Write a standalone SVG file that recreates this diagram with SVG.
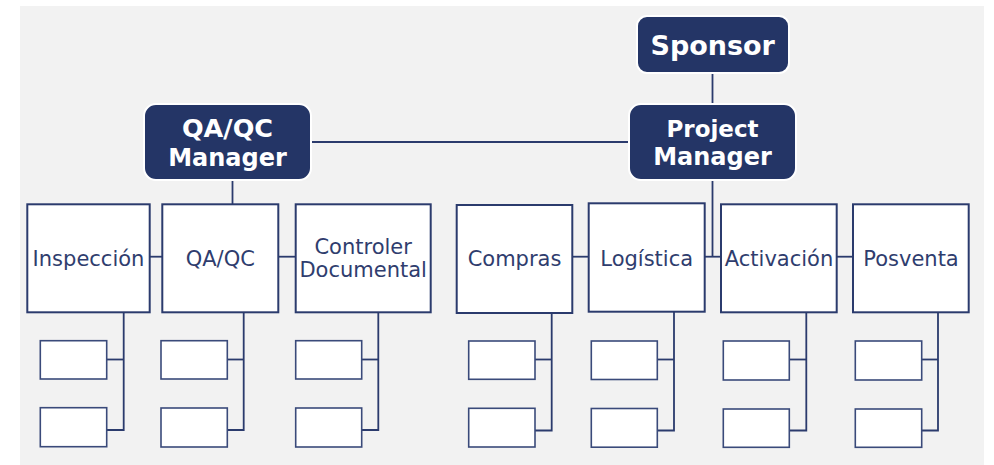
<svg xmlns="http://www.w3.org/2000/svg" width="994" height="465" viewBox="0 0 994 465">
<style>
.bg{fill:#f2f2f2}
.mgr{fill:#243566;stroke:#ffffff;stroke-width:2}
.mt{font-family:"DejaVu Sans",sans-serif;font-weight:bold;fill:#ffffff;text-anchor:middle}
.box{fill:#ffffff;stroke:#2b3b6d;stroke-width:2}
.sub{fill:#ffffff;stroke:#3a4a7a;stroke-width:1.6}
.bt{font-family:"DejaVu Sans",sans-serif;font-size:21px;fill:#2f3d6e;text-anchor:middle}
.ln{fill:none;stroke:#2b3b6d;stroke-width:1.8}
</style>
<rect class="bg" x="20" y="6" width="964" height="459"/>
<g id="connectors">
<line class="ln" x1="311" y1="142" x2="629" y2="142"/>
<line class="ln" x1="712.5" y1="73" x2="712.5" y2="104"/>
<polyline class="ln" points="712.5,180 712.5,256.7"/>
<line class="ln" x1="705" y1="256.7" x2="721" y2="256.7"/>
<line class="ln" x1="232.5" y1="180" x2="232.5" y2="204"/>
<line class="ln" x1="150" y1="256.7" x2="162" y2="256.7"/>
<line class="ln" x1="278" y1="256.7" x2="296" y2="256.7"/>
<line class="ln" x1="572" y1="256.7" x2="589" y2="256.7"/>
<line class="ln" x1="837" y1="256.7" x2="853" y2="256.7"/>
<polyline class="ln" points="123.7,312 123.7,430 106.7,430"/><line class="ln" x1="106.7" y1="359.5" x2="123.7" y2="359.5"/>
<polyline class="ln" points="243.7,312 243.7,430 227.3,430"/><line class="ln" x1="227.3" y1="359.5" x2="243.7" y2="359.5"/>
<polyline class="ln" points="378.3,312 378.3,430 361.7,430"/><line class="ln" x1="361.7" y1="359.5" x2="378.3" y2="359.5"/>
<polyline class="ln" points="551.7,313 551.7,430.5 535,430.5"/><line class="ln" x1="535" y1="359.5" x2="551.7" y2="359.5"/>
<polyline class="ln" points="674,312 674,430.5 657.3,430.5"/><line class="ln" x1="657.3" y1="359.5" x2="674" y2="359.5"/>
<polyline class="ln" points="806.3,312 806.3,430.5 789.3,430.5"/><line class="ln" x1="789.3" y1="359.5" x2="806.3" y2="359.5"/>
<polyline class="ln" points="938,312 938,430.5 921.7,430.5"/><line class="ln" x1="921.7" y1="359.5" x2="938" y2="359.5"/>
</g>
<g id="sponsor"><rect class="mgr" x="637" y="16" width="152" height="57" rx="10"/><text class="mt" x="712.7" y="55" font-size="27">Sponsor</text></g>
<g id="project-manager"><rect class="mgr" x="629" y="104" width="167" height="76" rx="12"/><text class="mt" x="712.5" y="136.7" font-size="23">Project</text><text class="mt" x="712.5" y="165" font-size="24">Manager</text></g>
<g id="qaqc-manager"><rect class="mgr" x="144" y="104" width="167" height="76" rx="12"/><text class="mt" x="227.5" y="137" font-size="25.5">QA/QC</text><text class="mt" x="227.5" y="165.5" font-size="24">Manager</text></g>
<g id="inspeccion"><rect class="box" x="27.3" y="204.3" width="122.4" height="108"/><text class="bt" x="88.5" y="265.5">Inspección</text></g>
<g id="qaqc"><rect class="box" x="162.3" y="204.3" width="116" height="108"/><text class="bt" x="220.3" y="265.5">QA/QC</text></g>
<g id="controler"><rect class="box" x="295.7" y="204.3" width="135" height="108"/><text class="bt" x="363.2" y="254.3">Controler</text><text class="bt" x="363.2" y="276.7">Documental</text></g>
<g id="compras"><rect class="box" x="456.7" y="205" width="115.6" height="108"/><text class="bt" x="514.5" y="265.7">Compras</text></g>
<g id="logistica"><rect class="box" x="588.7" y="203.3" width="116" height="108.4"/><text class="bt" x="646.7" y="265.5">Logística</text></g>
<g id="activacion"><rect class="box" x="721" y="204.3" width="115.7" height="108"/><text class="bt" x="779" y="265.5">Activación</text></g>
<g id="posventa"><rect class="box" x="853" y="204.3" width="115.7" height="108"/><text class="bt" x="911" y="265.5">Posventa</text></g>
<g id="sub-inspeccion-1"><rect class="sub" x="40.3" y="340.7" width="66.4" height="38.3"/></g>
<g id="sub-inspeccion-2"><rect class="sub" x="40.3" y="407.7" width="66.4" height="39"/></g>
<g id="sub-qaqc-1"><rect class="sub" x="161" y="340.7" width="66.3" height="38.3"/></g>
<g id="sub-qaqc-2"><rect class="sub" x="161" y="408" width="66.3" height="39"/></g>
<g id="sub-controler-1"><rect class="sub" x="295.7" y="340.7" width="66" height="38.3"/></g>
<g id="sub-controler-2"><rect class="sub" x="295.7" y="408" width="66" height="39"/></g>
<g id="sub-compras-1"><rect class="sub" x="468.7" y="341" width="66.3" height="38.3"/></g>
<g id="sub-compras-2"><rect class="sub" x="468.7" y="408.3" width="66.3" height="38.7"/></g>
<g id="sub-logistica-1"><rect class="sub" x="591.3" y="341" width="66" height="38.5"/></g>
<g id="sub-logistica-2"><rect class="sub" x="591.3" y="408.5" width="66" height="38.7"/></g>
<g id="sub-activacion-1"><rect class="sub" x="723.3" y="341" width="66" height="39"/></g>
<g id="sub-activacion-2"><rect class="sub" x="723.3" y="409" width="66" height="38.3"/></g>
<g id="sub-posventa-1"><rect class="sub" x="855.3" y="341" width="66.4" height="39"/></g>
<g id="sub-posventa-2"><rect class="sub" x="855.3" y="409" width="66.4" height="38.3"/></g>
</svg>
